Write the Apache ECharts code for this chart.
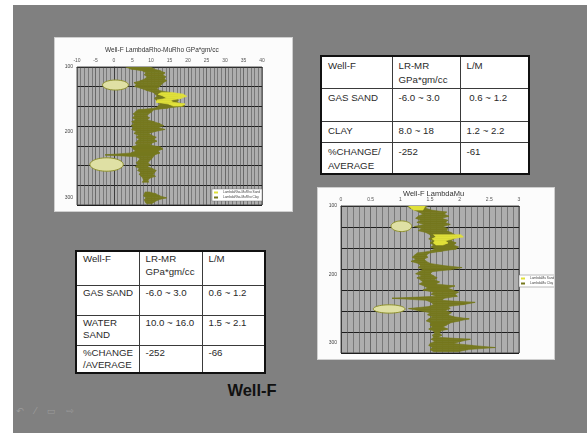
<!DOCTYPE html>
<html>
<head>
<meta charset="utf-8">
<script src="https://cdn.jsdelivr.net/npm/echarts@6/dist/echarts.min.js"></script>
<style>
  html, body { margin: 0; padding: 0; width: 587px; height: 433px; overflow: hidden; background: #ffffff;
    font-family: "Liberation Sans", Arial, sans-serif; }
  #slide { position: absolute; left: 13px; top: 5px; width: 574px; height: 428px; background: #808080; }
  .panel { position: absolute; background: #fcfcfc; box-shadow: 0 0 0 1px #cfcfcf; }
  #c1 { left: 55px; top: 38px; width: 237px; height: 173px; }
  #c2 { left: 318px; top: 188px; width: 236px; height: 171px; }
  table.tb { position: absolute; border-collapse: collapse; background: #ffffff; border: 2px solid #111;
    font-size: 9.7px; color: #2a2a2a; table-layout: fixed; }
  table.tb td { border: 1px solid #3a3a3a; vertical-align: top; padding: 0 0 0 6px; box-sizing: border-box; }
  #t1 { left: 320px; top: 55px; width: 208px; }
  #t1 td { padding-top: 2px; line-height: 14px; }
  #t2 { left: 75px; top: 250px; width: 189px; }
  #t2 td { padding-top: 1px; line-height: 12.5px; }
  #caption { position: absolute; left: 202px; top: 381px; width: 100px; text-align: center;
    font-weight: bold; font-size: 16.5px; color: #111; }
  #tools { position: absolute; left: 16px; top: 406px; font-family: "DejaVu Sans", sans-serif;
    font-size: 9px; color: #9c9c9c; letter-spacing: 4px; }
</style>
</head>
<body>
<div id="slide"></div>
<div id="c1" class="panel"></div>
<div id="c2" class="panel"></div>

<table id="t1" class="tb">
  <colgroup><col style="width:71px"><col style="width:68px"><col style="width:69px"></colgroup>
  <tr style="height:32px"><td>Well-F</td><td>LR-MR<br>GPa*gm/cc</td><td>L/M</td></tr>
  <tr style="height:33px"><td>GAS SAND</td><td>-6.0 ~ 3.0</td><td>&nbsp;0.6 ~ 1.2</td></tr>
  <tr style="height:21px"><td>CLAY</td><td>8.0 ~ 18</td><td>1.2 ~ 2.2</td></tr>
  <tr style="height:31px"><td>%CHANGE/<br>AVERAGE</td><td>-252</td><td>-61</td></tr>
</table>

<table id="t2" class="tb">
  <colgroup><col style="width:63px"><col style="width:63px"><col style="width:63px"></colgroup>
  <tr style="height:34px"><td>Well-F</td><td>LR-MR<br>GPa*gm/cc</td><td>L/M</td></tr>
  <tr style="height:30px"><td>GAS SAND</td><td>-6.0 ~ 3.0</td><td>0.6 ~ 1.2</td></tr>
  <tr style="height:30px"><td>WATER<br>SAND</td><td>10.0 ~ 16.0</td><td>1.5 ~ 2.1</td></tr>
  <tr style="height:28px"><td>%CHANGE<br>/AVERAGE</td><td>-252</td><td>-66</td></tr>
</table>

<div id="caption">Well-F</div>
<div id="tools">↶ ⁄ ▭ ⇨</div>

<script>
// ---- Well-F LambdaRho-MuRho log (GPa*gm/cc), trace edges per depth sample ----
const depth1 = [100,103,106,109,112,115,118,121,124,127,130,133,136,139,142,145,148,151,154,157,
  160,163,166,169,172,175,178,181,184,187,190,193,196,199,202,205,208,211,214,217,
  220,223,226,229,232,235,238,241,244,247,250,253,256,259,262,265,268,271,274,277,
  280,283,286,289,292,295,298,301,304,307,310];
const clayLeft1 = [3.2,4.5,7.8,8.6,8.2,8.9,8.4,7.2,5.4,6.0,
  5.6,7.4,8.8,10.6,11.2,11.6,11.0,11.4,11.8,12.4,
  12.0,11.2,6.4,5.8,5.2,5.6,5.0,5.8,4.8,5.4,
  4.6,5.2,4.8,6.0,5.4,6.6,6.0,6.8,6.2,5.8,
  6.4,4.8,5.2,5.8,4.6,-2.4,6.2,7.0,6.6,6.0,
  6.4,5.8,6.8,6.4,7.2,6.8,7.4,7.8,8.0,7.6,
  null,null,null,null,8.4,8.2,8.0,8.6,8.2,8.4,8.8];
const clayRight1 = [10.0,10.8,12.6,13.8,13.2,14.0,13.6,14.2,13.4,12.8,
  12.4,11.6,12.2,14.8,16.6,17.2,16.0,17.4,16.8,18.6,
  19.0,14.6,10.6,10.2,9.4,8.8,9.6,9.0,10.8,12.4,
  13.4,12.0,13.8,11.2,9.4,10.2,11.4,10.8,11.6,10.2,
  9.8,12.6,13.2,11.8,12.4,11.0,10.6,10.2,9.6,9.2,
  9.8,9.0,10.4,11.4,11.0,10.6,11.2,9.6,9.2,9.4,
  null,null,null,null,9.6,11.4,12.4,14.2,12.0,11.0,10.2];
const sandDepth1 = [139,142,145,148,151,154,157,160];
const sandLeft1  = [12.8,12.0,13.4,14.2,11.6,11.4,14.8,16.0];
const sandRight1 = [15.6,18.8,19.6,18.2,15.4,15.8,19.2,18.4];
// highlighted zones: [centre value, centre depth, half width, half height]
const zones1 = [[0.4,127.7,3.5,7.7],[-2.0,249.8,4.5,10.3]];

// ---- Well-F Lambda/Mu log ----
const depth2 = [100,103,106,109,112,115,118,121,124,127,130,133,136,139,142,145,148,151,154,157,
  160,163,166,169,172,175,178,181,184,187,190,193,196,199,202,205,208,211,214,217,
  220,223,226,229,232,235,238,241,244,247,250,253,256,259,262,265,268,271,274,277,
  280,283,286,289,292,295,298,301,304,307,310,313];
const clayLeft2 = [1.12,1.16,1.24,1.32,1.38,1.30,1.26,1.34,1.28,1.40,
  1.24,1.36,1.30,1.44,1.50,1.52,1.48,1.54,1.50,1.56,
  1.52,1.58,1.50,1.28,1.24,1.20,1.26,1.18,1.30,1.34,
  1.30,1.38,1.32,1.26,1.36,1.28,1.34,1.38,1.32,1.40,
  1.46,1.38,1.56,1.52,1.60,0.86,1.44,1.52,1.56,1.48,
  1.14,1.30,1.50,1.46,1.54,1.48,1.44,1.52,1.50,1.54,
  1.48,1.56,1.58,1.54,1.56,1.52,1.58,1.50,1.48,1.54,1.50,1.56];
const clayRight2 = [1.46,1.42,1.52,1.78,1.74,1.82,1.70,1.80,1.76,1.84,
  1.72,1.80,1.78,1.86,1.92,1.96,1.90,1.86,1.94,1.90,
  1.98,1.94,1.70,1.48,1.44,1.46,1.40,1.44,1.50,1.72,
  2.04,1.86,1.54,1.50,1.56,1.62,1.58,1.66,1.60,1.92,
  1.80,1.88,1.98,1.92,1.96,1.74,1.70,2.26,2.08,1.80,
  1.84,1.76,1.86,1.80,1.90,2.16,2.00,1.84,1.78,1.72,
  1.80,1.68,1.66,1.70,1.64,2.18,2.02,1.90,2.22,2.60,2.14,1.98];
const sandDepth2 = [100,103,106,142,145,148,151,154,157];
const sandLeft2  = [1.14,1.18,1.22,1.56,1.60,1.54,1.58,1.56,1.60];
const sandRight2 = [1.42,1.40,1.38,2.02,2.06,1.88,1.76,1.80,1.72];
const zones2 = [[1.017,129.6,0.174,7.8],[0.812,250.6,0.267,6.1]];

const OLIVE = '#76781e';
const YELLOW = '#e0e03a';

// join consecutive samples into trapezoid segments: [l0, r0, d0, l1, r1, d1]
function segments(depth, left, right) {
  const out = [];
  for (let i = 0; i < depth.length - 1; i++) {
    const vals = [left[i], right[i], depth[i], left[i + 1], right[i + 1], depth[i + 1]];
    if (vals.some(v => v === null)) continue;
    if (depth[i + 1] - depth[i] > 3.5) continue;
    out.push(vals);
  }
  return out;
}

function bandRenderer(color) {
  return function (params, api) {
    const a = api.coord([api.value(0), api.value(2)]);
    const b = api.coord([api.value(1), api.value(2)]);
    const c = api.coord([api.value(4), api.value(5)]);
    const d = api.coord([api.value(3), api.value(5)]);
    return { type: 'polygon', shape: { points: [a, b, c, d] },
      style: { fill: color, stroke: color, lineWidth: 0.6 } };
  };
}

function zoneRenderer(params, api) {
  const c = api.coord([api.value(0), api.value(1)]);
  const s = api.size([api.value(2), api.value(3)], [api.value(0), api.value(1)]);
  const pts = [];
  for (let k = 0; k < 48; k++) {
    const t = k / 48 * Math.PI * 2;
    pts.push([c[0] + s[0] * Math.cos(t), c[1] + s[1] * Math.sin(t)]);
  }
  return { type: 'polygon', shape: { points: pts },
    style: { fill: '#dfe0a4', stroke: '#8e902c', lineWidth: 1 } };
}

function buildOption(cfg) {
  return {
    animation: false,
    title: { text: cfg.title, left: cfg.titleLeft, top: cfg.titleTop, padding: 0,
      textStyle: { fontSize: cfg.titleSize, fontWeight: 'normal', color: '#333',
        fontFamily: 'Liberation Sans' } },
    grid: { left: cfg.grid[0], top: cfg.grid[1], right: cfg.grid[2], bottom: cfg.grid[3],
      outerBoundsMode: 'none', containLabel: false,
      show: true, backgroundColor: '#aeaeae', borderColor: '#2a2a2a', borderWidth: 0.8 },
    legend: {
      data: [cfg.sandName, cfg.clayName], orient: 'vertical', left: cfg.legendPos[0], top: cfg.legendPos[1],
      icon: 'rect', itemWidth: 4, itemHeight: 2, itemGap: 2, padding: [2, 2],
      backgroundColor: '#ffffff', borderColor: '#777', borderWidth: 0.5,
      textStyle: { fontSize: 3.2, color: '#444', fontFamily: 'Liberation Sans' }
    },
    xAxis: {
      type: 'value', position: 'top', min: cfg.xMin, max: cfg.xMax, interval: cfg.xStep,
      axisLine: { show: true, lineStyle: { color: '#333', width: 0.8 } },
      axisTick: { show: false },
      axisLabel: { fontSize: 5, color: '#555', margin: 4, fontFamily: 'Liberation Sans' },
      splitLine: { show: true, lineStyle: { color: '#4a4a4a', width: 0.7 } },
      minorTick: { show: false, splitNumber: 5 },
      minorSplitLine: { show: true, lineStyle: { color: '#555', width: 0.6 } }
    },
    yAxis: [
      { type: 'value', inverse: true, min: 100, max: cfg.yMax, interval: 100,
        name: 'Depth(ms)', nameLocation: 'middle', nameRotate: 90, nameGap: 13,
        nameTextStyle: { fontSize: 4.5, color: '#444', fontFamily: 'Liberation Sans' },
        axisLine: { show: true, lineStyle: { color: '#333', width: 0.8 } },
        axisTick: { show: false },
        axisLabel: { fontSize: 5, color: '#444', margin: 4, showMaxLabel: false,
          fontFamily: 'Liberation Sans' },
        splitLine: { show: false } },
      { type: 'value', inverse: true, min: 0, max: 7, interval: 1, position: 'left',
        axisLine: { show: false }, axisTick: { show: false }, axisLabel: { show: false },
        splitLine: { show: true, lineStyle: { color: '#1e1e1e', width: 1 } } }
    ],
    series: [
      { type: 'custom', name: cfg.clayName, clip: true, itemStyle: { color: OLIVE },
        renderItem: bandRenderer(OLIVE), data: segments(cfg.depth, cfg.clayL, cfg.clayR) },
      { type: 'custom', name: cfg.sandName, clip: true, itemStyle: { color: YELLOW },
        renderItem: bandRenderer(YELLOW), data: segments(cfg.sandD, cfg.sandL, cfg.sandR) },
      { type: 'custom', name: 'zones', clip: true, renderItem: zoneRenderer, data: cfg.zones }
    ]
  };
}

echarts.init(document.getElementById('c1'), null, { renderer: 'canvas' }).setOption(buildOption({
  title: 'Well-F LambdaRho-MuRho GPa*gm/cc', titleLeft: 50, titleTop: 9, titleSize: 6.5,
  grid: [22, 29, 30, 6], legendPos: [157, 151],
  xMin: -10, xMax: 40, xStep: 5, yMax: 312,
  clayName: 'LambdaRho-MuRho Clay', sandName: 'LambdaRho-MuRho Sand',
  depth: depth1, clayL: clayLeft1, clayR: clayRight1,
  sandD: sandDepth1, sandL: sandLeft1, sandR: sandRight1, zones: zones1
}));

echarts.init(document.getElementById('c2'), null, { renderer: 'canvas' }).setOption(buildOption({
  title: 'Well-F LambdaMu', titleLeft: 85, titleTop: 2, titleSize: 7.5,
  grid: [23, 18, 35, 6], legendPos: [201, 87],
  xMin: 0, xMax: 3, xStep: 0.5, yMax: 315,
  clayName: 'LambdaMu Clay', sandName: 'LambdaMu Sand',
  depth: depth2, clayL: clayLeft2, clayR: clayRight2,
  sandD: sandDepth2, sandL: sandLeft2, sandR: sandRight2, zones: zones2
}));
</script>
</body>
</html>
